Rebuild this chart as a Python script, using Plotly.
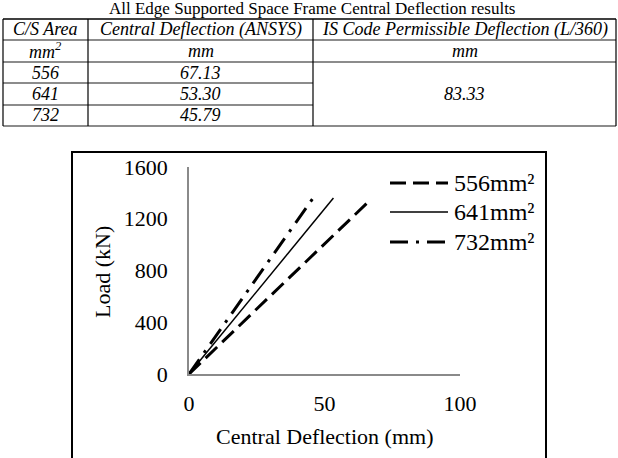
import plotly.graph_objects as go

W, H = 618, 458

# ---------------- data ----------------
title_text = "All Edge Supported Space Frame Central Deflection results"
col_headers = ["C/S Area", "Central Deflection (ANSYS)", "IS Code Permissible Deflection (L/360)"]
col_units = ["mm<sup>2</sup>", "mm", "mm"]
areas = ["556", "641", "732"]
central_defl = ["67.13", "53.30", "45.79"]
permissible = "83.33"

series_names = ["556mm²", "641mm²", "732mm²"]
defl_556 = [0, 10, 20, 30, 40, 50, 60, 67.13]
load_556 = [0, 200, 400, 600, 805, 1005, 1205, 1350]
defl_641 = [0, 10, 20, 30, 40, 53.3]
load_641 = [0, 255, 510, 765, 1020, 1360]
defl_732 = [0, 10, 20, 30, 40, 45.79]
load_732 = [0, 297, 594, 891, 1188, 1360]

x_ticks = [0, 50, 100]
y_ticks = [0, 400, 800, 1200, 1600]

# ---------------- helpers ----------------
def px(x):
    return x / W

def py(y):
    return 1 - y / H

SERIF = "Liberation Serif, Times New Roman, serif"
styles = [
    dict(color="black", width=3, dash="16px,7px"),
    dict(color="black", width=1.5, dash="solid"),
    dict(color="black", width=3, dash="18px,8px,3px,8px"),
]

fig = go.Figure()
for name, xs, ys, st in zip(series_names, [defl_556, defl_641, defl_732],
                            [load_556, load_641, load_732], styles):
    fig.add_trace(go.Scatter(x=xs, y=ys, mode="lines", name=name, line=st,
                             showlegend=False))

shapes = []
annotations = []

# ---------------- table ----------------
col_x = [3, 88, 313, 616]
row_y = [19, 40, 62, 83, 105, 126]
for i, yy in enumerate(row_y):
    x_end = 616 if i in (0, 1, 2, len(row_y) - 1) else 313
    shapes.append(dict(type="line", xref="paper", yref="paper",
                       x0=px(3), x1=px(x_end), y0=py(yy), y1=py(yy),
                       line=dict(color="black" if i == 0 else "#666", width=1.5)))
for xx in col_x:
    shapes.append(dict(type="line", xref="paper", yref="paper",
                       x0=px(xx), x1=px(xx), y0=py(row_y[0]), y1=py(row_y[-1]),
                       line=dict(color="black", width=1.2)))

tfont = dict(family=SERIF, size=18, color="black")

def cell(text, c, r0, r1=None):
    r1 = r0 if r1 is None else r1
    cx = (col_x[c] + col_x[c + 1]) / 2
    cy = (row_y[r0] + row_y[r1 + 1]) / 2
    annotations.append(dict(text="<i>" + text + "</i>", x=px(cx), y=py(cy),
                            xref="paper", yref="paper", showarrow=False,
                            xanchor="center", yanchor="middle", font=tfont))

annotations.append(dict(text=title_text, x=px(312), y=py(19), xref="paper",
                        yref="paper", showarrow=False, xanchor="center",
                        yanchor="bottom", borderpad=0,
                        font=dict(family=SERIF, size=17, color="black")))
for c, t in enumerate(col_headers):
    cell(t, c, 0)
for c, t in enumerate(col_units):
    cell(t, c, 1)
for r, (a, d) in enumerate(zip(areas, central_defl)):
    cell(a, 0, 2 + r)
    cell(d, 1, 2 + r)
cell(permissible, 2, 2, 4)

# ---------------- chart box ----------------
shapes.append(dict(type="rect", xref="paper", yref="paper",
                   x0=px(72), x1=px(546), y0=py(470), y1=py(152),
                   line=dict(color="black", width=2)))

# ---------------- legend (manual) ----------------
leg_y = [183, 212, 242]
for name, st, yy in zip(series_names, styles, leg_y):
    shapes.append(dict(type="line", xref="paper", yref="paper",
                       x0=px(390), x1=px(448), y0=py(yy), y1=py(yy),
                       line=st))
    annotations.append(dict(text=name, x=px(452), y=py(yy), xref="paper",
                            yref="paper", showarrow=False, xanchor="left",
                            yanchor="middle",
                            font=dict(family=SERIF, size=24, color="black")))

# ---------------- axis titles ----------------
annotations.append(dict(text="Load (kN)", x=px(102), y=py(272), xref="paper",
                        yref="paper", showarrow=False, textangle=-90,
                        xanchor="center", yanchor="middle",
                        font=dict(family=SERIF, size=22, color="black")))
annotations.append(dict(text="Central Deflection (mm)", x=px(324), y=py(436),
                        xref="paper", yref="paper", showarrow=False,
                        xanchor="center", yanchor="middle",
                        font=dict(family=SERIF, size=22, color="black")))

fig.update_layout(
    width=W, height=H,
    margin=dict(l=0, r=0, t=0, b=0, autoexpand=False),
    paper_bgcolor="white", plot_bgcolor="white",
    showlegend=False,
    shapes=shapes, annotations=annotations,
    xaxis=dict(domain=[px(189), px(460)], range=[0, 100], tickvals=x_ticks,
               showgrid=False, zeroline=False, showline=True, automargin=False,
               linecolor="#8a8a8a", linewidth=1.5, ticks="",
               ticklabelstandoff=9,
               tickfont=dict(family=SERIF, size=22, color="black")),
    yaxis=dict(domain=[py(374), py(167)], range=[0, 1600], tickvals=y_ticks,
               showgrid=False, zeroline=False, showline=True, automargin=False,
               linecolor="#8a8a8a", linewidth=1.5, ticks="",
               ticklabelstandoff=15,
               tickfont=dict(family=SERIF, size=22, color="black")),
)

fig.write_html("out.html")
